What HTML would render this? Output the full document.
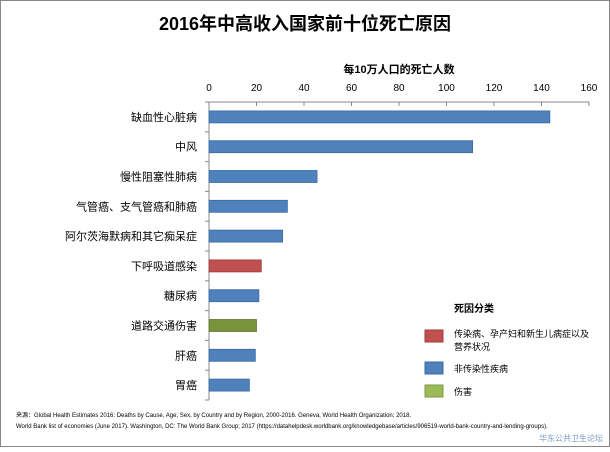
<!DOCTYPE html>
<html><head><meta charset="utf-8"><style>
body{margin:0;background:#fff}
svg text{font-family:"Liberation Sans","Noto Sans CJK SC",sans-serif}
</style></head><body>
<svg width="610" height="447" xmlns="http://www.w3.org/2000/svg">
<rect x="0.5" y="0.5" width="609" height="446" fill="#fff" stroke="#888"/>
<text x="305" y="30" text-anchor="middle" font-size="18" font-weight="bold" font-family="Liberation Serif,Noto Serif CJK SC,serif">2016年中高收入国家前十位死亡原因</text>
<text x="399" y="73" text-anchor="middle" font-size="11" font-weight="bold">每10万人口的死亡人数</text>
<g id="axes"></g>
<g id="bars"></g>
<text x="454" y="312" font-size="10" font-weight="bold">死因分类</text>
<g><rect x="425" y="330" width="18" height="12" fill="#c0504d" stroke="#9b3b38"/><text x="454" y="337" font-size="9">传染病、孕产妇和新生儿病症以及</text><text x="454" y="350" font-size="9">营养状况</text></g>
<g><rect x="425" y="362" width="18" height="12" fill="#4f81bd" stroke="#3a6aa3"/><text x="454" y="372" font-size="9">非传染性疾病</text></g>
<g><rect x="425" y="385" width="18" height="12" fill="#9bbb59" stroke="#7d9a45"/><text x="454" y="395" font-size="9">伤害</text></g>
<text x="16" y="417" font-size="6">来源：Global Health Estimates 2016: Deaths by Cause, Age, Sex, by Country and by Region, 2000-2016. Geneva, World Health Organization; 2018.</text>
<text x="16" y="428" font-size="6">World Bank list of economies (June 2017). Washington, DC: The World Bank Group; 2017 (https://datahelpdesk.worldbank.org/knowledgebase/articles/906519-world-bank-country-and-lending-groups).</text>
<text x="603" y="441" text-anchor="end" font-size="8" fill="#7a9cc6">华东公共卫生论坛</text>
</svg>
<script>
const categories=["缺血性心脏病","中风","慢性阻塞性肺病","气管癌、支气管癌和肺癌","阿尔茨海默病和其它痴呆症","下呼吸道感染","糖尿病","道路交通伤害","肝癌","胃癌"];
const values=[143.5,111,45.5,33,31,22,21,20,19.5,17];
const groups=["n","n","n","n","n","c","n","i","n","n"];
const ticks=[0,20,40,60,80,100,120,140,160];
const colors={c:["#c0504d","#9b3b38"],n:["#4f81bd","#3a6aa3"],i:["#77933c","#5f7a2e"]};
const NS="http://www.w3.org/2000/svg";
const x0=209,x1=589,yTop=102,yBot=400,maxV=160;
const xs=v=>x0+v/maxV*(x1-x0);
const band=(yBot-yTop)/categories.length;
const yc=i=>yTop+band*(i+0.5);
const ax=document.getElementById('axes'),bg=document.getElementById('bars');
function mk(t,a,p){const e=document.createElementNS(NS,t);for(const k in a)e.setAttribute(k,a[k]);p.appendChild(e);return e;}
const xl=mk('line',{x1:x0,x2:x1,y1:yTop,y2:yTop,stroke:'#888'},ax);


const yl=mk('line',{x1:x0,x2:x0,y1:yTop,y2:yBot,stroke:'#888'},ax);


ticks.forEach(t=>{
 mk('line',{x1:xs(t),x2:xs(t),y1:yTop,y2:yTop+4,stroke:'#888'},ax);
 const tx=mk('text',{x:xs(t),y:91,'text-anchor':'middle','font-size':10},ax);
 tx.textContent=t;
 
 
});
for(let i=0;i<=categories.length;i++)mk('line',{x1:x0-4,x2:x0,y1:yTop+band*i,y2:yTop+band*i,stroke:'#888'},ax);
categories.forEach((c,i)=>{
 const col=colors[groups[i]];
 const r=mk('rect',{x:x0,y:yc(i)-6,width:xs(values[i])-x0,height:12,fill:col[0],stroke:col[1],'stroke-width':0.8},bg);
 
 
 const t=mk('text',{x:x0-12,y:yc(i)+4,'text-anchor':'end','font-size':11},ax);
 t.textContent=c;
 
 
});
</script>
</body></html>
